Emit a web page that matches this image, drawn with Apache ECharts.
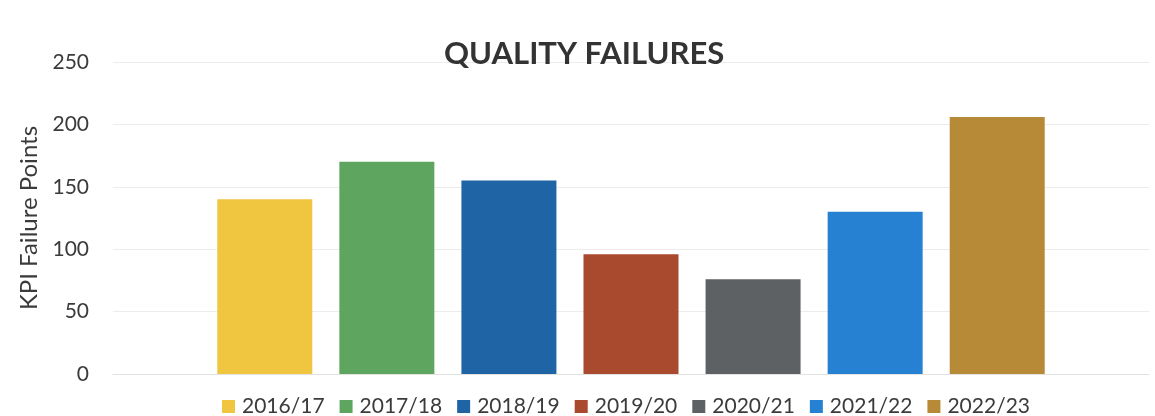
<!DOCTYPE html>
<html>
<head>
<meta charset="utf-8">
<script src="https://cdn.jsdelivr.net/npm/echarts@6/dist/echarts.min.js"></script>
<style>
html,body{margin:0;padding:0;background:#fff;}
#c{width:1155px;height:416px;}
</style>
</head>
<body>
<div id="c"></div>
<script>
const seasons = ['2016/17','2017/18','2018/19','2019/20','2020/21','2021/22','2022/23'];
const failurePoints = [140, 170, 155, 96, 76, 130, 206];
const seasonColors = ['#F0C53F','#5EA660','#1F64A5','#A9492D','#5E6163','#2781D2','#B78A38'];
const yTicks = {min: 0, max: 250, interval: 50};

const FONT = 'Lato';
const TXT = '#3b3b3b';

const series = seasons.map((s, i) => ({
  name: s,
  type: 'bar',
  data: [failurePoints[i]],
  itemStyle: {color: seasonColors[i]},
  barWidth: 95,
  barGap: '28.5%'
}));

const chart = echarts.init(document.getElementById('c'), null, {renderer: 'canvas'});
chart.setOption({
  animation: false,
  backgroundColor: '#fff',
  title: {
    text: 'QUALITY FAILURES',
    left: 439,
    top: 33,
    textStyle: {fontFamily: FONT, fontWeight: 'bold', fontSize: 31, color: '#333'}
  },
  legend: {
    top: 391,
    left: 217,
    itemWidth: 13,
    itemHeight: 13,
    itemGap: 15,
    icon: 'rect',
    textStyle: {fontFamily: FONT, fontSize: 21, color: TXT, padding: [0,0,0,2]},
    data: seasons
  },
  grid: {left: 113, right: 6, top: 62, bottom: 42},
  xAxis: {
    type: 'category',
    data: [''],
    axisLine: {lineStyle: {color: '#e2e2e2'}},
    axisTick: {show: false},
    axisLabel: {show: false}
  },
  yAxis: {
    type: 'value',
    min: yTicks.min, max: yTicks.max, interval: yTicks.interval,
    name: 'KPI Failure Points',
    nameLocation: 'middle',
    nameGap: 72,
    nameTextStyle: {fontFamily: FONT, fontSize: 24, color: TXT},
    axisLabel: {fontFamily: FONT, fontSize: 21, color: TXT, margin: 24},
    axisLine: {show: false},
    axisTick: {show: false},
    splitLine: {lineStyle: {color: '#ececec'}}
  },
  series: series
});
</script>
</body>
</html>
